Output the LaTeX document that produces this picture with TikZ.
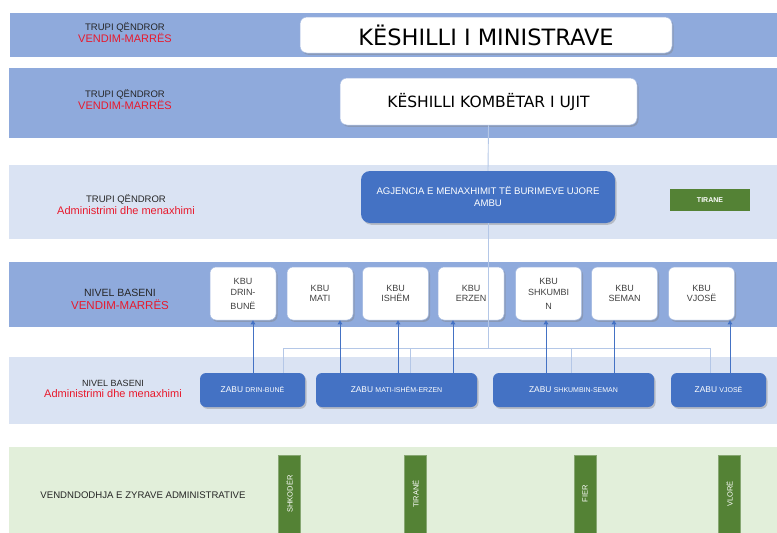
\documentclass[tikz,border=0pt]{standalone}
\usepackage{fontspec}
\setmainfont{Liberation Sans}
\newfontfamily\dvs{DejaVu Sans}
\usetikzlibrary{shadows,arrows.meta}
\definecolor{bandmid}{HTML}{8FAADC}
\definecolor{bandlight}{HTML}{DAE3F3}
\definecolor{bandgreen}{HTML}{E2EFDA}
\definecolor{boxblue}{HTML}{4472C4}
\definecolor{boxgreen}{HTML}{548235}
\definecolor{labred}{HTML}{E8192C}
\definecolor{conncol}{HTML}{B4C7E7}
\definecolor{kbutext}{HTML}{404040}
\begin{document}
\begin{tikzpicture}[x=1pt,y=-1pt,
  lab/.style={align=center, inner sep=0pt, text=black!85},
  whitebox/.style={draw=boxblue!50, line width=0.5pt, fill=white, rounded corners=7pt,
    drop shadow={opacity=0.4, shadow xshift=1.5pt, shadow yshift=-1.8pt}},
  kbu/.style={whitebox, rounded corners=6pt, minimum width=66pt, minimum height=53pt, inner sep=1pt,
    align=center, text=kbutext, font=\fontsize{9}{10}\selectfont},
  bluebox/.style={fill=boxblue, rounded corners=6pt, text=white, align=center, inner sep=1pt,
    drop shadow={opacity=0.4, shadow xshift=1.5pt, shadow yshift=-1.8pt}},
  zabu/.style={bluebox, minimum height=34pt, font=\fontsize{8.4}{9}\selectfont},
  greenv/.style={fill=boxgreen, draw=boxgreen!70!white, line width=0.4pt, minimum width=22pt, minimum height=78pt,
    inner sep=0pt, text=white, font=\fontsize{7.5}{8}\selectfont},
  arr/.style={draw=boxblue, line width=1pt, -{Triangle[length=4pt,width=4.5pt]}},
  conn/.style={draw=conncol, line width=0.9pt}
]
\useasboundingbox (0,0) rectangle (777,533);
% bands
\fill[bandmid]   (10,13)  rectangle (777,57);
\fill[bandmid]   (9,68)   rectangle (777,138);
\fill[bandlight] (9,165)  rectangle (777,239);
\fill[bandmid]   (9,262)  rectangle (777,327);
\fill[bandlight] (9,357)  rectangle (777,424);
\fill[bandgreen] (9,447)  rectangle (777,533);

% band labels
\node[lab] (l1) at (125,33) {{\fontsize{9.5}{10}\selectfont TRUPI QËNDROR}\\[0pt]{\fontsize{11}{12}\selectfont\color{labred}VENDIM-MARRËS}};
\node[lab] (l2) at (125,99.5) {{\fontsize{9.5}{10}\selectfont TRUPI QËNDROR}\\[0pt]{\fontsize{11}{12}\selectfont\color{labred}VENDIM-MARRËS}};
\node[lab] (l3) at (126,205) {{\fontsize{9.5}{10}\selectfont TRUPI QËNDROR}\\[0pt]{\fontsize{11}{12}\selectfont\color{labred}Administrimi dhe menaxhimi}};
\node[lab] (l4) at (120,299) {{\fontsize{10.5}{11}\selectfont NIVEL BASENI}\\[1pt]{\fontsize{11.5}{12}\selectfont\color{labred}VENDIM-MARRËS}};
\node[lab] (l5) at (113,389) {{\fontsize{9}{10}\selectfont NIVEL BASENI}\\[-1pt]{\fontsize{11}{12}\selectfont\color{labred}Administrimi dhe menaxhimi}};
\node[lab] (l6) at (143,495) {\fontsize{9.6}{10}\selectfont VENDNDODHJA E ZYRAVE ADMINISTRATIVE};

% top boxes
\node[whitebox, minimum width=372pt, minimum height=36pt, inner sep=0pt, font=\dvs\fontsize{22.5}{24}\selectfont] (km) at (486,35) {KËSHILLI I MINISTRAVE};
\node[whitebox, minimum width=297pt, minimum height=47pt, inner sep=0pt, font=\dvs\fontsize{15.5}{17}\selectfont] (kk) at (488.5,101.5) {KËSHILLI KOMBËTAR I UJIT};

% agency
\node[bluebox, rounded corners=9pt, minimum width=254pt, minimum height=52pt, font=\fontsize{9.6}{12}\selectfont] (ambu) at (488,197) {AGJENCIA E MENAXHIMIT TË BURIMEVE UJORE\\AMBU};
\node[fill=boxgreen, minimum width=80pt, minimum height=22pt, inner sep=0pt, text=white, font=\bfseries\fontsize{7}{8}\selectfont] (tir) at (710,200) {TIRANE};

% KBU boxes
\node[kbu] (k1) at (243,293.5) {KBU\\[1pt]DRIN-\\[4pt]BUNË};
\node[kbu] (k2) at (320,293.5) {KBU\\MATI};
\node[kbu] (k3) at (395.5,293.5) {KBU\\ISHËM};
\node[kbu] (k4) at (471,293.5) {KBU\\ERZEN};
\node[kbu] (k5) at (548.5,293.5) {KBU\\[1pt]SHKUMBI\\[4pt]N};
\node[kbu] (k6) at (624.5,293.5) {KBU\\SEMAN};
\node[kbu] (k7) at (701.5,293.5) {KBU\\VJOSË};

% ZABU boxes
\node[zabu, minimum width=105pt] (z1) at (252.5,390) {ZABU {\fontsize{7}{8}\selectfont DRIN-BUNË}};
\node[zabu, minimum width=161pt] (z2) at (396.5,390) {ZABU {\fontsize{7}{8}\selectfont MATI-ISHËM-ERZEN}};
\node[zabu, minimum width=161pt] (z3) at (573.5,390) {ZABU {\fontsize{7}{8}\selectfont SHKUMBIN-SEMAN}};
\node[zabu, minimum width=95pt] (z4) at (718.5,390) {ZABU {\fontsize{7}{8}\selectfont VJOSË}};

% office locations
\node[greenv] (g1) at (289.5,494) {\rotatebox{90}{SHKODËR}};
\node[greenv] (g2) at (415.5,494) {\rotatebox{90}{TIRANË}};
\node[greenv] (g3) at (585,494) {\rotatebox{90}{FIER}};
\node[greenv] (g4) at (729.5,494) {\rotatebox{90}{VLORË}};

% light connectors
\coordinate (hub) at (488,348);
\coordinate (c1) at (283,0);
\coordinate (c2) at (410,0);
\coordinate (c3) at (571,0);
\coordinate (c4) at (710,0);
\draw[conn] (kk.south) -- (ambu.north);
\draw[conn] (ambu.south) -- (hub);
\draw[conn] (c1 |- hub) -- (c4 |- hub);
\draw[conn] (c1 |- hub) -- (c1 |- z1.north);
\draw[conn] (c2 |- hub) -- (c2 |- z2.north);
\draw[conn] (c3 |- hub) -- (c3 |- z3.north);
\draw[conn] (c4 |- hub) -- (c4 |- z4.north);

% arrows ZABU -> KBU
\coordinate (a1) at (253,0);
\coordinate (a2) at (340,0);
\coordinate (a3) at (398,0);
\coordinate (a4) at (453,0);
\coordinate (a5) at (546,0);
\coordinate (a6) at (614,0);
\coordinate (a7) at (730,0);
\draw[arr] (a1 |- z1.north) -- (a1 |- k1.south);
\draw[arr] (a2 |- z2.north) -- (a2 |- k2.south);
\draw[arr] (a3 |- z2.north) -- (a3 |- k3.south);
\draw[arr] (a4 |- z2.north) -- (a4 |- k4.south);
\draw[arr] (a5 |- z3.north) -- (a5 |- k5.south);
\draw[arr] (a6 |- z3.north) -- (a6 |- k6.south);
\draw[arr] (a7 |- z4.north) -- (a7 |- k7.south);
\end{tikzpicture}
\end{document}
